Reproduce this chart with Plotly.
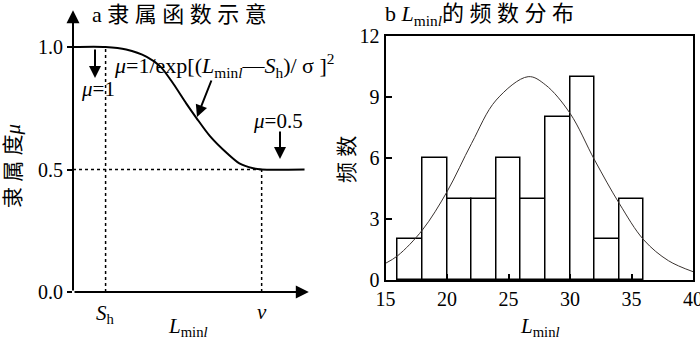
import plotly.graph_objects as go

# ---------------- data ----------------
# Panel a: schematic membership function (arbitrary L_minl units)
mu_x = [0, 1.9, 3.1, 4.3, 5.1, 5.85, 6.6, 7.2, 8.0, 9.0, 9.7, 10.5, 11.0, 13.5]
mu_y = [1.0, 1.0, 0.99, 0.96, 0.92, 0.85, 0.77, 0.71, 0.635, 0.565, 0.525, 0.505, 0.5, 0.5]
sh_pos = 1.9
v_pos = 11.0
mu_ticks = [0.0, 0.5, 1.0]
mu_ticktext = ["0.0", "0.5", "1.0"]

# Panel b: histogram of L_minl
bin_left = [16, 18, 20, 22, 24, 26, 28, 30, 32, 34]
bin_width = 2
counts = [2, 6, 4, 4, 6, 4, 8, 10, 2, 4]
fit_x = [15, 16, 18, 20, 22, 24, 26.6, 28, 30, 32, 34, 36, 38, 40]
fit_y = [0.82, 1.2, 2.46, 4.34, 6.72, 8.85, 10.0, 9.6, 8.2, 5.9, 3.77, 1.97, 0.95, 0.41]
x_ticks_b = [15, 20, 25, 30, 35, 40]
y_ticks_b = [0, 3, 6, 9, 12]

W, H = 700, 339
SERIF = "'Liberation Serif', 'Times New Roman', 'Noto Sans CJK SC', serif"
sp = "\u2005"

def px_x(p):
    return p / W

def px_y(p):
    return 1 - p / H

fig = go.Figure()

# ---- panel a ----
fig.add_trace(go.Scatter(x=mu_x, y=mu_y, mode="lines", line=dict(color="black", width=2, shape="spline", smoothing=0.8),
                         xaxis="x", yaxis="y", showlegend=False, hoverinfo="skip"))
dot = dict(color="black", width=1.5, dash="dot")
fig.add_trace(go.Scatter(x=[sh_pos, sh_pos], y=[0, 1.0], mode="lines", line=dot,
                         xaxis="x", yaxis="y", showlegend=False, hoverinfo="skip"))
fig.add_trace(go.Scatter(x=[v_pos, v_pos], y=[0, 0.5], mode="lines", line=dot,
                         xaxis="x", yaxis="y", showlegend=False, hoverinfo="skip"))
fig.add_trace(go.Scatter(x=[0, v_pos], y=[0.5, 0.5], mode="lines", line=dot,
                         xaxis="x", yaxis="y", showlegend=False, hoverinfo="skip"))

# ---- panel b ----
centers = [b + bin_width / 2 for b in bin_left]
fig.add_trace(go.Bar(x=centers, y=counts, width=bin_width, marker=dict(color="white", line=dict(color="black", width=1.5)),
                     xaxis="x2", yaxis="y2", showlegend=False, hoverinfo="skip"))
fig.add_trace(go.Scatter(x=fit_x, y=fit_y, mode="lines", line=dict(color="#3a3330", width=1, shape="spline"),
                         xaxis="x2", yaxis="y2", showlegend=False, hoverinfo="skip"))

xa_max = 13.75
ya_max = 1.15

fig.update_layout(
    width=W, height=H,
    margin=dict(l=0, r=0, t=0, b=0, autoexpand=False),
    paper_bgcolor="white", plot_bgcolor="white",
    font=dict(family=SERIF, size=20, color="black"),
    xaxis=dict(domain=[px_x(73), px_x(73 + xa_max * 17.15)], range=[0, xa_max], showline=False, showgrid=False,
               zeroline=False, showticklabels=False, ticks="", automargin=False),
    yaxis=dict(domain=[px_y(292), px_y(292 - ya_max * 245)], range=[0, ya_max], showline=False, showgrid=False,
               zeroline=False, tickvals=mu_ticks, ticktext=mu_ticktext, ticks="outside", ticklen=5, tickwidth=1.5,
               tickcolor="black", tickfont=dict(family=SERIF, size=20), automargin=False),
    xaxis2=dict(domain=[px_x(385.5), px_x(693)], range=[15, 40], showline=True, linecolor="black", linewidth=2,
                mirror=True, showgrid=False, zeroline=False, tickvals=x_ticks_b, ticks="inside", ticklen=6,
                tickwidth=1.5, tickcolor="black", tickfont=dict(family=SERIF, size=20), anchor="y2",
                automargin=False, ticklabeloverflow="allow"),
    yaxis2=dict(domain=[px_y(280), px_y(36)], range=[0, 12], showline=True, linecolor="black", linewidth=2,
                mirror=True, showgrid=False, zeroline=False, tickvals=y_ticks_b, ticks="inside", ticklen=6,
                tickwidth=1.5, tickcolor="black", tickfont=dict(family=SERIF, size=20), anchor="x2",
                automargin=False, ticklabeloverflow="allow"),
    bargap=0,
)

ann = []
# axis arrows for panel a
ann.append(dict(x=xa_max, y=0, ax=0, ay=0, xref="x", yref="y", axref="x", ayref="y", showarrow=True,
                arrowhead=2, arrowsize=1.3, arrowwidth=2, arrowcolor="black", text=""))
ann.append(dict(x=0, y=ya_max, ax=0, ay=0, xref="x", yref="y", axref="x", ayref="y", showarrow=True,
                arrowhead=2, arrowsize=1.3, arrowwidth=2, arrowcolor="black", text=""))
# pointer arrows
ann.append(dict(x=px_x(95), y=px_y(78), ax=0, ay=-30, xref="paper", yref="paper", showarrow=True,
                arrowhead=2, arrowsize=1.2, arrowwidth=2, arrowcolor="black", text=""))
ann.append(dict(x=px_x(197), y=px_y(117), ax=15, ay=-38, xref="paper", yref="paper", showarrow=True,
                arrowhead=2, arrowsize=1.2, arrowwidth=2, arrowcolor="black", text=""))
ann.append(dict(x=px_x(280), y=px_y(159), ax=0, ay=-29, xref="paper", yref="paper", showarrow=True,
                arrowhead=2, arrowsize=1.2, arrowwidth=2, arrowcolor="black", text=""))
# texts
ann.append(dict(x=px_x(112), y=px_y(66), xref="paper", yref="paper", xanchor="left", yanchor="middle", showarrow=False,
                text="<i>μ</i>=1/exp[(<i>L</i><sub>min<i>l</i></sub>—<i>S</i><sub>h</sub>)/ σ ]<sup>2</sup>",
                font=dict(family=SERIF, size=22)))
ann.append(dict(x=px_x(79), y=px_y(89), xref="paper", yref="paper", xanchor="left", yanchor="middle", showarrow=False,
                text="<i>μ</i>=1", font=dict(family=SERIF, size=21)))
ann.append(dict(x=px_x(251), y=px_y(121), xref="paper", yref="paper", xanchor="left", yanchor="middle", showarrow=False,
                text="<i>μ</i>=0.5", font=dict(family=SERIF, size=21)))
ann.append(dict(x=sh_pos, y=px_y(314), xref="x", yref="paper", xanchor="center", yanchor="middle", showarrow=False,
                text="<i>S</i><sub>h</sub>", font=dict(family=SERIF, size=21)))
ann.append(dict(x=v_pos, y=px_y(312), xref="x", yref="paper", xanchor="center", yanchor="middle", showarrow=False,
                text="<i>v</i>", font=dict(family=SERIF, size=21)))
ann.append(dict(x=px_x(188), y=px_y(327), xref="paper", yref="paper", xanchor="center", yanchor="middle", showarrow=False,
                text="<i>L</i><sub>min<i>l</i></sub>", font=dict(family=SERIF, size=21)))
ann.append(dict(x=px_x(540), y=px_y(327), xref="paper", yref="paper", xanchor="center", yanchor="middle", showarrow=False,
                text="<i>L</i><sub>min<i>l</i></sub>", font=dict(family=SERIF, size=21)))
# titles
ann.append(dict(x=px_x(90), y=px_y(15), xref="paper", yref="paper", xanchor="left", yanchor="middle", showarrow=False,
                align="left", text="a " + sp.join("隶属函数示意"), font=dict(family=SERIF, size=22)))
ann.append(dict(x=px_x(383), y=px_y(15), xref="paper", yref="paper", xanchor="left", yanchor="middle", showarrow=False,
                align="left", text="b <i>L</i><sub>min<i>l</i></sub>" + sp.join("的频数分布"), font=dict(family=SERIF, size=22)))
# y titles
ann.append(dict(x=px_x(13), y=px_y(166), xref="paper", yref="paper", xanchor="center", yanchor="middle", showarrow=False,
                text=sp.join("隶属度") + "<i>μ</i>", textangle=-90, font=dict(family=SERIF, size=21)))
ann.append(dict(x=px_x(347), y=px_y(160), xref="paper", yref="paper", xanchor="center", yanchor="middle", showarrow=False,
                text=sp.join("频数"), textangle=-90, font=dict(family=SERIF, size=21)))

fig.update_layout(annotations=ann)
fig.write_html("out.html", config={"displayModeBar": False},
               post_script="document.body.style.margin='0';document.body.style.padding='0';")
